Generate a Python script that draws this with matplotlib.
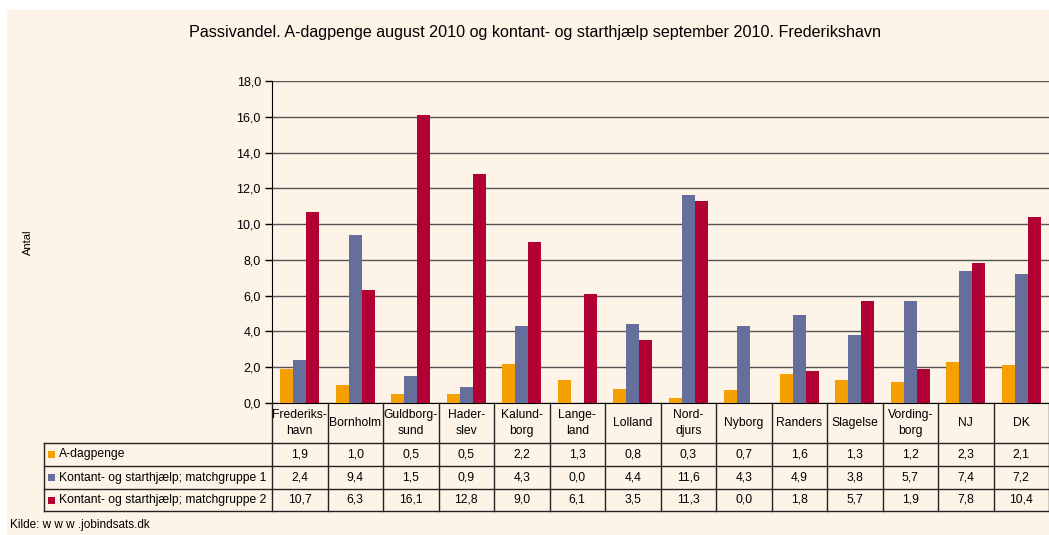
import matplotlib
matplotlib.use("Agg")
import matplotlib.pyplot as plt
from matplotlib.patches import Rectangle
import numpy as np

plt.rcParams['font.family'] = ['Liberation Sans', 'DejaVu Sans']

categories = ["Frederiks-\nhavn", "Bornholm", "Guldborg-\nsund", "Hader-\nslev", "Kalund-\nborg",
              "Lange-\nland", "Lolland", "Nord-\ndjurs", "Nyborg", "Randers", "Slagelse",
              "Vording-\nborg", "NJ", "DK"]
series_names = ["A-dagpenge",
                "Kontant- og starthjælp; matchgruppe 1",
                "Kontant- og starthjælp; matchgruppe 2"]
a_dagpenge = [1.9, 1.0, 0.5, 0.5, 2.2, 1.3, 0.8, 0.3, 0.7, 1.6, 1.3, 1.2, 2.3, 2.1]
match1 = [2.4, 9.4, 1.5, 0.9, 4.3, 0.0, 4.4, 11.6, 4.3, 4.9, 3.8, 5.7, 7.4, 7.2]
match2 = [10.7, 6.3, 16.1, 12.8, 9.0, 6.1, 3.5, 11.3, 0.0, 1.8, 5.7, 1.9, 7.8, 10.4]
yticks = [0, 2, 4, 6, 8, 10, 12, 14, 16, 18]

series = [a_dagpenge, match1, match2]
colors = ["#F59F00", "#666E9B", "#B10034"]
bg = "#FDF3E6"

W, H = 1049, 535
fig = plt.figure(figsize=(W / 100, H / 100), dpi=100, facecolor="white")
fig.patches.append(Rectangle((7 / W, 0), 1 - 7 / W, (H - 10) / H, transform=fig.transFigure,
                             facecolor=bg, edgecolor="none", zorder=-10))

# main axes
x0, x1 = 272, 1049
ytop, ybot = 81, 403
ax = fig.add_axes([x0 / W, (H - ybot) / H, (x1 - x0) / W, (ybot - ytop) / H])
ax.set_facecolor(bg)
n = len(categories)
x = np.arange(n)
bw = 0.235
for i, (vals, c) in enumerate(zip(series, colors)):
    ax.bar(x + (i - 1) * bw, vals, width=bw, color=c, zorder=3, linewidth=0)
ax.set_xlim(-0.5, n - 0.5)
ax.set_ylim(0, 18)
ax.set_yticks(yticks)
ax.set_yticklabels([f"{v:.1f}".replace(".", ",") for v in yticks], fontsize=9)
ax.set_xticks([])
ax.grid(axis="y", color="#555555", linewidth=1.0, zorder=1)
for s in ["top", "right"]:
    ax.spines[s].set_visible(False)
ax.spines["left"].set_color("black")
ax.spines["bottom"].set_color("black")
ax.tick_params(axis="y", length=5, width=1, color="black", pad=3)
ax.set_ylabel("Antal", fontsize=8, labelpad=0)
ax.yaxis.set_label_coords(-(272 - 33) / (x1 - x0), 0.5)

# table axes
tl, tr, ttop, tbot = 44, 1049, 403, 511
colw = (x1 - x0) / n
labw = (x0 - tl) / colw
tab = fig.add_axes([tl / W, (H - tbot) / H, (tr - tl) / W, (tbot - ttop) / H])
tab.set_xlim(-0.5 - labw, n - 0.5)
tab.set_ylim(tbot - ttop, 0)
tab.axis("off")
rows_y = [0, 40, 63, 86, 108]
lc = "#222222"
fs = 8.7
for ry in rows_y[1:]:
    tab.plot([-0.5 - labw, n - 0.5], [ry, ry], color=lc, lw=1.0, clip_on=False)
tab.plot([-0.5 - labw, -0.5 - labw], [rows_y[1], rows_y[-1]], color=lc, lw=1.0, clip_on=False)
for k in range(n + 1):
    tab.plot([k - 0.5, k - 0.5], [0, rows_y[-1]], color=lc, lw=1.0, clip_on=False)
for k, cat in enumerate(categories):
    tab.text(k, rows_y[1] / 2, cat, ha="center", va="center", fontsize=fs, linespacing=1.35)
for r, (name, vals, c) in enumerate(zip(series_names, series, colors)):
    yc = (rows_y[r + 1] + rows_y[r + 2]) / 2
    tab.add_patch(Rectangle((-0.5 - labw + 4 / colw, yc - 3.5), 7 / colw, 7, facecolor=c,
                            edgecolor="none", clip_on=False))
    tab.text(-0.5 - labw + 15 / colw, yc, name, ha="left", va="center", fontsize=fs)
    for k, v in enumerate(vals):
        tab.text(k, yc, f"{v:.1f}".replace(".", ","), ha="center", va="center", fontsize=fs)

fig.text(535 / W, 1 - 33 / H, "Passivandel. A-dagpenge august 2010 og kontant- og starthjælp september 2010. Frederikshavn",
         ha="center", va="center", fontsize=11.6)
fig.text(10 / W, 1 - 525 / H, "Kilde: w w w .jobindsats.dk", ha="left", va="center", fontsize=8.5)

fig.savefig("out.png", dpi=100, facecolor="white")
